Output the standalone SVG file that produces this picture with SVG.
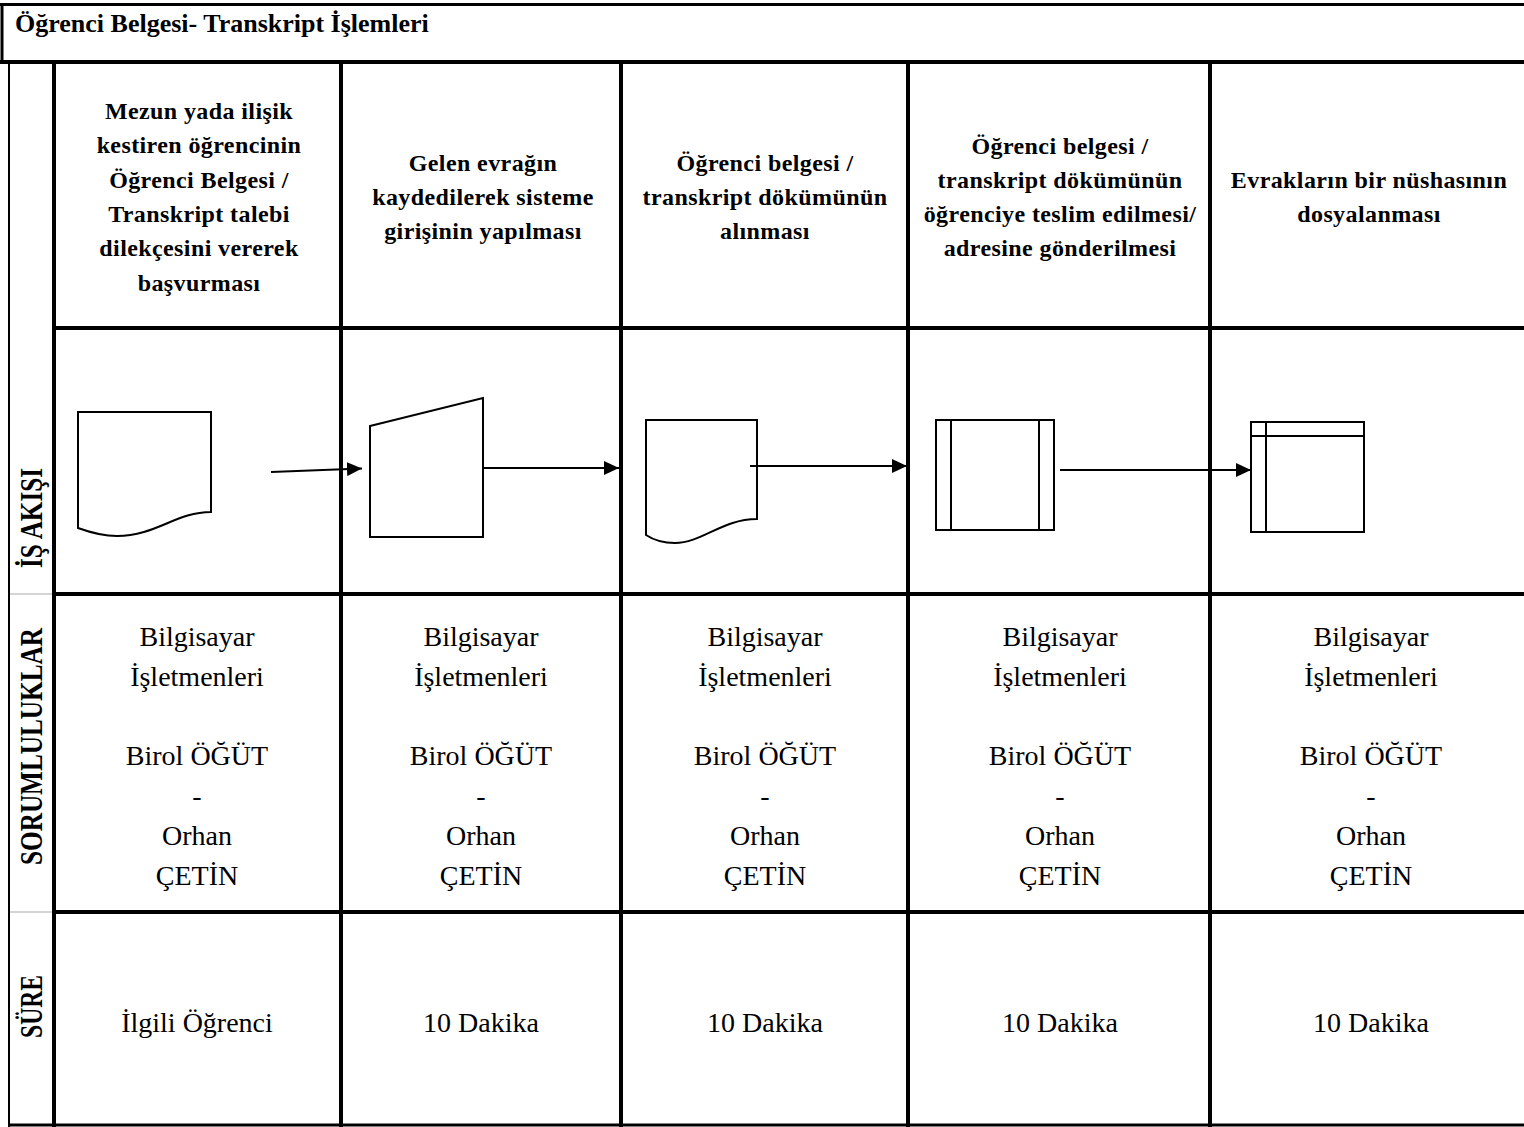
<svg xmlns="http://www.w3.org/2000/svg" width="1524" height="1127" viewBox="0 0 1524 1127">
  <style>
    .grid { stroke: #000; stroke-width: 4; fill: none; }
    .thin { stroke: #000; stroke-width: 2; fill: none; }
    .soft { stroke: #d4d4d4; stroke-width: 2; fill: none; }
    .shape { stroke: #000; stroke-width: 2; fill: #fff; }
    .inner { stroke: #000; stroke-width: 2; fill: none; }
    .conn { stroke: #000; stroke-width: 2; fill: none; marker-end: url(#arrow); }
    .title { font-family: "Liberation Serif", "Times New Roman", serif; font-weight: bold; font-size: 26px; fill: #000; }
    .head { font-family: "Liberation Serif", "Times New Roman", serif; font-weight: bold; font-size: 24px; letter-spacing: 0.4px; fill: #000; text-anchor: middle; }
    .body { font-family: "Liberation Serif", "Times New Roman", serif; font-size: 28px; fill: #000; text-anchor: middle; }
    .side { font-family: "Liberation Serif", "Times New Roman", serif; font-weight: bold; font-size: 31px; fill: #000; text-anchor: middle; }
  </style>
  <defs>
    <marker id="arrow" viewBox="0 0 15 14" refX="15" refY="7" markerWidth="15" markerHeight="14" markerUnits="userSpaceOnUse" orient="auto">
      <path d="M0,0 L15,7 L0,14 Z" fill="#000"/>
    </marker>
  </defs>

  <rect width="1524" height="1127" fill="#fff"/>

  <!-- table frame -->
  <g id="table">
    <line x1="0" y1="4.5" x2="1524" y2="4.5" stroke="#000" stroke-width="3"/>
    <line x1="2" y1="3" x2="2" y2="63" stroke="#000" stroke-width="3"/>
    <line class="grid" x1="0" y1="62" x2="1524" y2="62"/>
    <line class="thin" x1="9" y1="62" x2="9" y2="1127"/>
    <line class="grid" x1="54" y1="62" x2="54" y2="1127"/>
    <line class="grid" x1="341" y1="62" x2="341" y2="1127"/>
    <line class="grid" x1="621" y1="62" x2="621" y2="1127"/>
    <line class="grid" x1="908" y1="62" x2="908" y2="1127"/>
    <line class="grid" x1="1210" y1="62" x2="1210" y2="1127"/>
    <line class="grid" x1="54" y1="328" x2="1524" y2="328"/>
    <line class="grid" x1="54" y1="594" x2="1524" y2="594"/>
    <line class="grid" x1="54" y1="912" x2="1524" y2="912"/>
    <line class="soft" x1="10" y1="594" x2="52" y2="594"/>
    <line class="soft" x1="10" y1="912" x2="52" y2="912"/>
    <line x1="8" y1="1125" x2="1524" y2="1125" stroke="#000" stroke-width="3"/>
  </g>

  <text class="title" x="15" y="32">Öğrenci Belgesi- Transkript İşlemleri</text>

  <!-- row labels -->
  <g id="row-labels">
    <text class="side" transform="translate(42,518) rotate(-90)" textLength="100" lengthAdjust="spacingAndGlyphs">İŞ AKIŞI</text>
    <text class="side" transform="translate(42,746.5) rotate(-90)" textLength="237" lengthAdjust="spacingAndGlyphs">SORUMLULUKLAR</text>
    <text class="side" transform="translate(42,1006.5) rotate(-90)" textLength="63" lengthAdjust="spacingAndGlyphs">SÜRE</text>
  </g>

  <!-- step headings -->
  <g id="headings">
    <text class="head" x="199" y="119">Mezun yada ilişik</text>
    <text class="head" x="199" y="153.3">kestiren öğrencinin</text>
    <text class="head" x="199" y="187.5">Öğrenci Belgesi /</text>
    <text class="head" x="199" y="222">Transkript talebi</text>
    <text class="head" x="199" y="256.3">dilekçesini vererek</text>
    <text class="head" x="199" y="290.5">başvurması</text>

    <text class="head" x="483" y="170.8">Gelen evrağın</text>
    <text class="head" x="483" y="205">kaydedilerek sisteme</text>
    <text class="head" x="483" y="239.2">girişinin yapılması</text>

    <text class="head" x="765" y="170.8">Öğrenci belgesi /</text>
    <text class="head" x="765" y="205">transkript dökümünün</text>
    <text class="head" x="765" y="239.2">alınması</text>

    <text class="head" x="1060" y="153.7">Öğrenci belgesi /</text>
    <text class="head" x="1060" y="187.9">transkript dökümünün</text>
    <text class="head" x="1060" y="222.1">öğrenciye teslim edilmesi/</text>
    <text class="head" x="1060" y="256.3">adresine gönderilmesi</text>

    <text class="head" x="1369" y="187.9">Evrakların bir nüshasının</text>
    <text class="head" x="1369" y="222.1">dosyalanması</text>
  </g>

  <!-- flow shapes -->
  <g id="step1-document">
    <path class="shape" d="M78,412 H211 V512 C176,512 156,536 117,536 C101,536 89,532 78,528 Z"/>
  </g>
  <g id="step2-manual-input">
    <polygon class="shape" points="370,426 483,398 483,537 370,537"/>
  </g>
  <g id="step3-document">
    <path class="shape" d="M646,420 H757 V519 C722,519 702,543 675,543 C661,543 652,539 646,535 Z"/>
  </g>
  <g id="step4-predefined-process">
    <rect class="shape" x="936" y="420" width="118" height="110"/>
    <line class="inner" x1="951" y1="420" x2="951" y2="530"/>
    <line class="inner" x1="1039" y1="420" x2="1039" y2="530"/>
  </g>
  <g id="step5-internal-storage">
    <rect class="shape" x="1251" y="422" width="113" height="110"/>
    <line class="inner" x1="1251" y1="436" x2="1364" y2="436"/>
    <line class="inner" x1="1266" y1="422" x2="1266" y2="532"/>
  </g>

  <!-- connectors -->
  <g id="connectors">
    <line class="conn" x1="271" y1="472" x2="362" y2="468.5"/>
    <line class="conn" x1="483" y1="468" x2="619" y2="468"/>
    <line class="conn" x1="750" y1="466" x2="907" y2="466"/>
    <line class="conn" x1="1060" y1="470" x2="1251" y2="470"/>
  </g>

  <!-- responsibilities -->
  <g id="responsibilities">
    <g transform="translate(197,0)">
      <text class="body" y="645.5">Bilgisayar</text>
      <text class="body" y="686">İşletmenleri</text>
      <text class="body" y="765">Birol ÖĞÜT</text>
      <text class="body" y="804.5">-</text>
      <text class="body" y="844.5">Orhan</text>
      <text class="body" y="885">ÇETİN</text>
    </g>
    <g transform="translate(481,0)">
      <text class="body" y="645.5">Bilgisayar</text>
      <text class="body" y="686">İşletmenleri</text>
      <text class="body" y="765">Birol ÖĞÜT</text>
      <text class="body" y="804.5">-</text>
      <text class="body" y="844.5">Orhan</text>
      <text class="body" y="885">ÇETİN</text>
    </g>
    <g transform="translate(765,0)">
      <text class="body" y="645.5">Bilgisayar</text>
      <text class="body" y="686">İşletmenleri</text>
      <text class="body" y="765">Birol ÖĞÜT</text>
      <text class="body" y="804.5">-</text>
      <text class="body" y="844.5">Orhan</text>
      <text class="body" y="885">ÇETİN</text>
    </g>
    <g transform="translate(1060,0)">
      <text class="body" y="645.5">Bilgisayar</text>
      <text class="body" y="686">İşletmenleri</text>
      <text class="body" y="765">Birol ÖĞÜT</text>
      <text class="body" y="804.5">-</text>
      <text class="body" y="844.5">Orhan</text>
      <text class="body" y="885">ÇETİN</text>
    </g>
    <g transform="translate(1371,0)">
      <text class="body" y="645.5">Bilgisayar</text>
      <text class="body" y="686">İşletmenleri</text>
      <text class="body" y="765">Birol ÖĞÜT</text>
      <text class="body" y="804.5">-</text>
      <text class="body" y="844.5">Orhan</text>
      <text class="body" y="885">ÇETİN</text>
    </g>
  </g>

  <!-- durations -->
  <g id="durations">
    <text class="body" x="197" y="1032">İlgili Öğrenci</text>
    <text class="body" x="481" y="1032">10 Dakika</text>
    <text class="body" x="765" y="1032">10 Dakika</text>
    <text class="body" x="1060" y="1032">10 Dakika</text>
    <text class="body" x="1371" y="1032">10 Dakika</text>
  </g>
</svg>
